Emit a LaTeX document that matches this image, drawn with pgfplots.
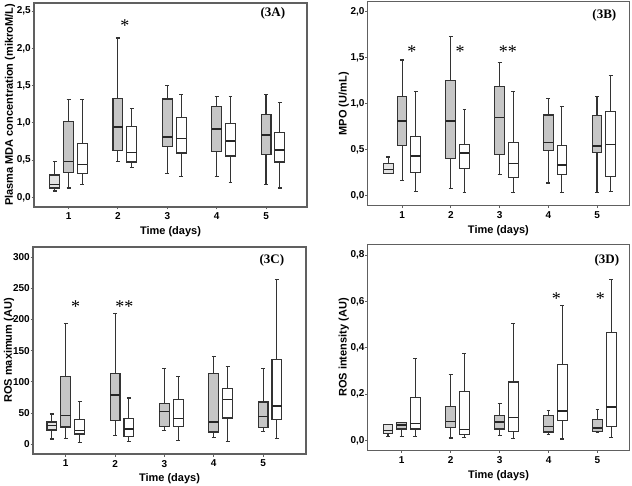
\documentclass[border=0pt]{standalone}
\usepackage{fontspec}
\setmainfont{Liberation Sans}
\newfontfamily\serifb{Liberation Serif}
\usepackage{pgfplots}
\pgfplotsset{compat=1.18}
\usepgfplotslibrary{statistics}
\usetikzlibrary{patterns,patterns.meta}

\definecolor{framec}{HTML}{606060}
\definecolor{boxline}{HTML}{333333}

\pgfplotsset{
 myaxis/.style={scale only axis, anchor=south west,
   axis line style={framec, line width=1.3pt},
   tick align=outside, xtick pos=bottom, ytick pos=left,
   major tick length=2.5bp, tick style={framec, line width=0.9pt},
   xtick={1,2,3,4,5}, xlabel={Time (days)},
   tick label style={font=\fontsize{10bp}{12bp}\selectfont\bfseries},
   yticklabel style={inner xsep=0.5bp},
   xlabel style={font=\fontsize{11bp}{13bp}\selectfont\bfseries},
   every axis y label/.style={at={(rel axis cs:0,0.5)}, xshift=-24bp, rotate=90, anchor=center,
      font=\fontsize{11bp}{13bp}\selectfont\bfseries},
   /pgf/number format/assume math mode=true,
   yticklabel style={/pgf/number format/.cd, use comma, fixed, fixed zerofill, precision=1},
   clip=false},
 ctrl/.style={draw=boxline, line width=1.1pt, fill=gray!22},
 hatch/.style={draw=boxline, line width=1.1pt, fill=gray!45,
   postaction={pattern={Lines[angle=45,distance=2.6bp,line width=0.9bp]}, pattern color=gray!35!black}},
 wht/.style={draw=boxline, line width=1.1pt, fill=white},
 boxplot/draw direction=y,
 boxplot/box extend=0.2, boxplot/whisker extend=0.08,
 boxplot/every median/.style={line width=1.6pt, draw=black!85},
}
\newcommand\bx[7]{\addplot[#1, boxplot prepared={draw position=#2, lower whisker=#3, lower quartile=#4, median=#5, upper quartile=#6, upper whisker=#7}] coordinates {};}
\newcommand\sigstar[1]{{\serifb\fontsize{18bp}{18bp}\selectfont #1}}
\newcommand\plab[1]{{\serifb\bfseries\fontsize{13bp}{14bp}\selectfont #1}}

\begin{document}
\begin{tikzpicture}
\useasboundingbox (0,0) rectangle (632bp,486bp);
% ---------- 3A
\begin{axis}[myaxis, at={(34bp,279bp)}, width=273bp, height=204bp,
  xmin=0.3, xmax=5.83, ymin=-0.13, ymax=2.61, ytick={0,0.5,1,1.5,2,2.5},
  ylabel={Plasma MDA concentration (mikroM/L)}]
\bx{ctrl}{0.72}{0.085}{0.125}{0.17}{0.30}{0.48}
\bx{hatch}{1}{0.125}{0.33}{0.48}{1.02}{1.31}
\bx{wht}{1.28}{0.17}{0.32}{0.44}{0.72}{1.31}
\bx{hatch}{2}{0.48}{0.63}{0.945}{1.33}{2.14}
\bx{wht}{2.28}{0.40}{0.475}{0.60}{0.95}{1.19}
\bx{hatch}{3}{0.32}{0.685}{0.81}{1.32}{1.505}
\bx{wht}{3.28}{0.28}{0.595}{0.79}{1.07}{1.385}
\bx{hatch}{4}{0.28}{0.62}{0.92}{1.22}{1.35}
\bx{wht}{4.28}{0.20}{0.555}{0.76}{0.99}{1.35}
\bx{hatch}{5}{0.17}{0.58}{0.84}{1.115}{1.385}
\bx{wht}{5.28}{0.125}{0.475}{0.635}{0.87}{1.27}
\node at (axis cs:2.14,2.30) {\sigstar{*}};
\node at (rel axis cs:0.875,0.95) {\plab{(3A)}};
\end{axis}
% ---------- 3B
\begin{axis}[myaxis, at={(367.7bp,280.3bp)}, width=261.5bp, height=204bp,
  xmin=0.295, xmax=5.66, ymin=-0.109, ymax=2.109, ytick={0,0.5,1,1.5,2},
  ylabel={MPO (U/mL)}]
\bx{ctrl}{0.72}{0.24}{0.245}{0.285}{0.345}{0.42}
\bx{hatch}{1}{0.163}{0.543}{0.81}{1.076}{1.475}
\bx{wht}{1.28}{0.05}{0.254}{0.43}{0.64}{1.13}
\bx{hatch}{2}{0.08}{0.406}{0.815}{1.25}{1.735}
\bx{wht}{2.28}{0.036}{0.297}{0.467}{0.56}{0.94}
\bx{hatch}{3}{0.235}{0.45}{0.848}{1.19}{1.45}
\bx{wht}{3.28}{0.033}{0.196}{0.348}{0.576}{1.13}
\bx{hatch}{4}{0.138}{0.489}{0.576}{0.877}{1.058}
\bx{wht}{4.28}{0.036}{0.232}{0.333}{0.55}{0.967}
\bx{hatch}{5}{0.036}{0.471}{0.543}{0.87}{1.076}
\bx{wht}{5.28}{0.043}{0.206}{0.558}{0.913}{1.31}
\node at (axis cs:1.2,1.57) {\sigstar{*}};
\node at (axis cs:2.19,1.57) {\sigstar{*}};
\node at (axis cs:3.17,1.57) {\sigstar{**}};
\node at (rel axis cs:0.905,0.935) {\plab{(3B)}};
\end{axis}
% ---------- 3C
\begin{axis}[myaxis, at={(33bp,32bp)}, width=273bp, height=207bp,
  xmin=0.336, xmax=5.87, ymin=-15.5, ymax=316, ytick={0,50,100,150,200,250,300},
  yticklabel style={/pgf/number format/.cd, fixed, precision=0},
  ylabel={ROS maximum (AU)}]
\bx{ctrl}{0.72}{8.5}{23}{29.9}{35.8}{48.6}
\bx{hatch}{1}{10}{27.8}{46}{108}{193}
\bx{wht}{1.28}{3.2}{16.5}{22.4}{39.5}{68}
\bx{hatch}{2}{14.4}{37.9}{79}{113}{210}
\bx{wht}{2.28}{4.8}{12.8}{24.6}{41}{74.2}
\bx{hatch}{3}{22.4}{28.3}{52.3}{66}{121}
\bx{wht}{3.28}{5.9}{28.3}{41.6}{71.5}{109}
\bx{hatch}{4}{10.7}{19.8}{35.8}{114}{140}
\bx{wht}{4.28}{4.8}{42.2}{71.5}{89.7}{125}
\bx{hatch}{5}{20.3}{27.2}{44.3}{67.8}{121.7}
\bx{wht}{5.28}{9.1}{39.5}{60.9}{135.6}{263.7}
\node at (axis cs:1.2,220) {\sigstar{*}};
\node at (axis cs:2.19,220) {\sigstar{**}};
\node at (rel axis cs:0.875,0.937) {\plab{(3C)}};
\end{axis}
% ---------- 3D
\begin{axis}[myaxis, at={(367.7bp,35.7bp)}, width=261.6bp, height=205.6bp,
  xmin=0.306, xmax=5.65, ymin=-0.043, ymax=0.845, ytick={0,0.2,0.4,0.6,0.8},
  ylabel={ROS intensity (AU)}]
\bx{ctrl}{0.72}{0.017}{0.029}{0.043}{0.068}{0.07}
\bx{hatch}{1}{0.017}{0.049}{0.065}{0.079}{0.079}
\bx{wht}{1.28}{0.017}{0.049}{0.072}{0.186}{0.352}
\bx{hatch}{2}{0.01}{0.056}{0.082}{0.147}{0.283}
\bx{wht}{2.28}{0.013}{0.027}{0.046}{0.211}{0.377}
\bx{hatch}{3}{0.022}{0.049}{0.078}{0.109}{0.161}
\bx{wht}{3.28}{0.009}{0.039}{0.099}{0.252}{0.506}
\bx{hatch}{4}{0.024}{0.036}{0.06}{0.108}{0.128}
\bx{wht}{4.28}{0.006}{0.086}{0.128}{0.329}{0.581}
\bx{hatch}{5}{0.035}{0.039}{0.053}{0.089}{0.132}
\bx{wht}{5.28}{0.014}{0.06}{0.145}{0.466}{0.696}
\node at (axis cs:4.16,0.61) {\sigstar{*}};
\node at (axis cs:5.06,0.61) {\sigstar{*}};
\node at (rel axis cs:0.914,0.926) {\plab{(3D)}};
\end{axis}
\end{tikzpicture}
\end{document}
